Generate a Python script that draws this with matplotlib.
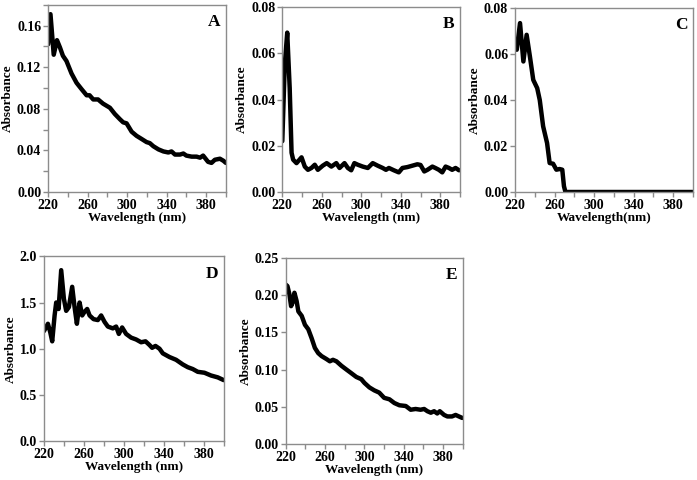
import matplotlib.pyplot as plt
from matplotlib.ticker import MultipleLocator, FixedLocator

plt.rcParams['font.family'] = ['Liberation Serif', 'DejaVu Serif']
plt.rcParams['font.weight'] = 'bold'

# panel A
wl_a = [220, 222.4, 225.7, 229, 232, 235, 238.6, 243.7, 248.8, 253.8, 259, 262, 265.7,
        270.6, 275.6, 282.6, 287.6, 292.7, 296, 299.5, 304.6, 309.6, 314.7, 319.7, 323,
        326.6, 331.7, 336.8, 341.8, 345, 348.5, 353.6, 357, 360, 365.4, 370.4, 373.9,
        377, 382, 385.5, 388.9, 394, 397.6, 400]
abs_a = [0.142, 0.171, 0.132, 0.146, 0.139, 0.131, 0.126, 0.114, 0.105, 0.099, 0.093,
         0.093, 0.089, 0.089, 0.085, 0.081, 0.075, 0.070, 0.067, 0.066, 0.058, 0.054,
         0.051, 0.048, 0.047, 0.044, 0.041, 0.039, 0.038, 0.039, 0.036, 0.036, 0.037,
         0.035, 0.034, 0.034, 0.033, 0.035, 0.029, 0.028, 0.031, 0.032, 0.030, 0.028]

# panel B
wl_b = [220, 222.5, 225, 227.5, 229.4, 231, 234.4, 239.5, 242.8, 246, 249.5, 252.9, 256,
        261, 265, 269.7, 274.7, 278, 283, 286.4, 289.8, 293, 296.5, 301.5, 306.6, 311.6,
        316.6, 321.7, 325, 328, 333, 338, 341.7, 346.8, 351.8, 356.8, 360, 363.8, 367,
        372, 375, 378.6, 382, 385.4, 388.8, 392, 395.5, 399]
abs_b = [0.022, 0.055, 0.069, 0.045, 0.017, 0.014, 0.0125, 0.015, 0.011, 0.0096, 0.0104,
         0.0118, 0.0096, 0.0114, 0.0125, 0.011, 0.0125, 0.0104, 0.0125, 0.0104, 0.0094,
         0.0125, 0.0118, 0.011, 0.0104, 0.0125, 0.0114, 0.0104, 0.0096, 0.0104, 0.0094,
         0.0085, 0.0104, 0.0108, 0.0114, 0.012, 0.0117, 0.0089, 0.0096, 0.011, 0.0104,
         0.0096, 0.0085, 0.011, 0.0104, 0.0096, 0.0104, 0.0094]

# panel C
wl_c = [221.7, 225, 228.4, 231.7, 235, 238.4, 242.4, 245, 248.4, 252.4, 255, 258.5,
        261.8, 265, 267.8, 269.5, 271, 300, 350, 400]
abs_c = [0.0619, 0.0735, 0.0568, 0.0684, 0.059, 0.0488, 0.0452, 0.040, 0.0286, 0.0213,
         0.0126, 0.0123, 0.0097, 0.010, 0.0097, 0.0025, 0.0, 0.0, 0.0, 0.0]

# panel D
wl_d = [220, 224, 226.3, 228.3, 230.7, 232.3, 234.7, 237.3, 240, 242.3, 245, 248.3, 250.7,
        253, 255.7, 258.3, 260.7, 263.3, 265.7, 269.7, 274, 277.3, 280.7, 284, 289, 292.3,
        295, 298.3, 302.3, 307.3, 312.3, 317.3, 321.7, 325.7, 328.3, 331.7, 335.7, 339,
        345.7, 352.3, 359, 364, 369, 374, 380.7, 387.3, 394, 400]
abs_d = [1.19, 1.27, 1.18, 1.08, 1.36, 1.50, 1.43, 1.85, 1.54, 1.41, 1.45, 1.67, 1.45,
         1.27, 1.50, 1.36, 1.40, 1.43, 1.36, 1.32, 1.31, 1.36, 1.29, 1.24, 1.22, 1.24,
         1.16, 1.23, 1.16, 1.12, 1.10, 1.07, 1.08, 1.04, 1.01, 1.03, 1.00, 0.95, 0.91,
         0.88, 0.83, 0.80, 0.78, 0.75, 0.74, 0.71, 0.69, 0.66]

# panel E
wl_e = [220, 221.7, 223.7, 225.4, 227, 228.8, 231, 232.8, 236.2, 239.5, 242.9, 246.3,
        249.6, 253, 256.4, 261.4, 264.8, 268, 271.5, 276.6, 281.6, 286.7, 291.7, 296.8,
        300, 305, 310, 315, 320, 325.4, 330.4, 335.5, 342, 347, 352, 357, 360.7, 364,
        367.5, 370.8, 374, 376.6, 381, 384.3, 389, 392.7, 396, 399.4]
abs_e = [0.214, 0.212, 0.201, 0.185, 0.19, 0.203, 0.192, 0.178, 0.172, 0.160, 0.154,
         0.142, 0.129, 0.122, 0.118, 0.114, 0.111, 0.113, 0.111, 0.105, 0.100, 0.095,
         0.090, 0.087, 0.082, 0.076, 0.072, 0.069, 0.062, 0.060, 0.055, 0.052, 0.051,
         0.046, 0.047, 0.046, 0.047, 0.044, 0.042, 0.044, 0.041, 0.044, 0.039, 0.037,
         0.037, 0.039, 0.037, 0.035]

x_labels = [220, 260, 300, 340, 380]

panels = [
    ("A", wl_a, abs_a, [0.069, 0.600, 0.255, 0.390], 0.18, 0.02, 0.04, "%.2f", "Wavelength (nm)"),
    ("B", wl_b, abs_b, [0.405, 0.600, 0.255, 0.385], 0.08, 0.02, 0.02, "%.2f", "Wavelength (nm)"),
    ("C", wl_c, abs_c, [0.739, 0.600, 0.255, 0.383], 0.08, 0.02, 0.02, "%.2f", "Wavelength(nm)"),
    ("D", wl_d, abs_d, [0.063, 0.081, 0.258, 0.385], 2.0, 0.5, 0.5, "%.1f", "Wavelength (nm)"),
    ("E", wl_e, abs_e, [0.410, 0.075, 0.254, 0.388], 0.25, 0.05, 0.05, "%.2f", "Wavelength (nm)"),
]

fig = plt.figure(figsize=(6.97, 4.8), dpi=100)
grey = "#8c8c8c"

for letter, x, y, pos, ymax, yminor, ymajor, fmt, xlabel in panels:
    ax = fig.add_axes(pos)
    ax.plot(x, y, color="black", lw=3.2, solid_joinstyle="round", solid_capstyle="round")
    ax.set_xlim(220, 400)
    ax.set_ylim(0, ymax)
    ax.xaxis.set_major_locator(FixedLocator(x_labels))
    ax.xaxis.set_minor_locator(MultipleLocator(20))
    ax.yaxis.set_major_locator(MultipleLocator(ymajor))
    ax.yaxis.set_minor_locator(MultipleLocator(yminor))
    ax.yaxis.set_major_formatter(plt.FormatStrFormatter(fmt))
    for s in ax.spines.values():
        s.set_color(grey)
        s.set_linewidth(1.0)
    ax.tick_params(which="both", direction="out", length=3.5, color=grey, width=1.0,
                   labelsize=10, pad=1.5)
    ax.set_xlabel(xlabel, fontsize=9.5, fontweight="bold", labelpad=0)
    ax.set_ylabel("Absorbance", fontsize=9.5, fontweight="bold", labelpad=2)
    ax.text(0.97, 0.95, letter, transform=ax.transAxes, ha="right", va="top",
            fontsize=12.5, fontweight="bold")
    if letter == "A":
        ax.set_yticks([0, 0.04, 0.08, 0.12, 0.16])

fig.savefig("out.png", dpi=100)
